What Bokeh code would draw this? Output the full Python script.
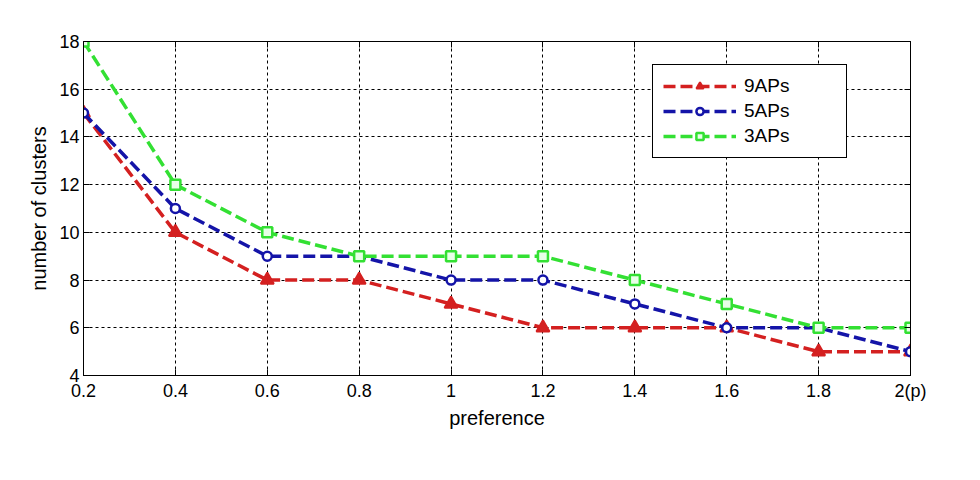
from bokeh.plotting import figure
from bokeh.models import LinearAxis, FixedTicker, Legend, LegendItem, Range1d
from bokeh.embed import file_html
from bokeh.resources import INLINE

x = [0.2, 0.4, 0.6, 0.8, 1.0, 1.2, 1.4, 1.6, 1.8, 2.0]
aps9 = [15, 10, 8, 8, 7, 6, 6, 6, 5, 5]
aps5 = [15, 11, 9, 9, 8, 8, 7, 6, 6, 5]
aps3 = [18, 12, 10, 9, 9, 9, 8, 7, 6, 6]
xticks = [0.2, 0.4, 0.6, 0.8, 1.0, 1.2, 1.4, 1.6, 1.8, 2.0]
xtick_labels = {0.2: "0.2", 0.4: "0.4", 0.6: "0.6", 0.8: "0.8", 1.0: "1", 1.2: "1.2",
                1.4: "1.4", 1.6: "1.6", 1.8: "1.8", 2.0: "2(p)"}
yticks = [4, 6, 8, 10, 12, 14, 16, 18]

FONT = "Liberation Sans"
RED = "#d42020"
BLUE = "#1414a8"
GREEN = "#33e033"

p = figure(width=975, height=470, output_backend="svg", toolbar_location=None,
           x_range=Range1d(0.2, 2.0), y_range=Range1d(4, 18),
           min_border_left=83, min_border_right=65, min_border_top=41, min_border_bottom=95)
p.background_fill_color = "white"
p.border_fill_color = "white"
p.outline_line_color = "black"
p.outline_line_width = 1
p.outline_line_alpha = 1

for ax in (p.xaxis[0], p.yaxis[0]):
    ax.major_tick_in = 6
    ax.major_tick_out = 0
    ax.minor_tick_line_color = None
    ax.axis_line_color = "black"
    ax.major_label_text_font = FONT
    ax.major_label_text_font_size = "18px"
    ax.major_label_text_color = "black"
    ax.axis_label_text_font = FONT
    ax.axis_label_text_font_size = "20px"
    ax.axis_label_text_font_style = "normal"
    ax.axis_label_text_color = "black"

p.xaxis.ticker = FixedTicker(ticks=xticks)
p.xaxis.major_label_overrides = xtick_labels
p.yaxis.ticker = FixedTicker(ticks=yticks)
p.xaxis.axis_label = "preference"
p.yaxis.axis_label = "number of clusters"
p.xaxis.major_label_standoff = 5
p.xaxis.axis_label_standoff = 3
p.yaxis.major_label_standoff = 4
p.yaxis.axis_label_standoff = 6

top_ax = LinearAxis(ticker=FixedTicker(ticks=xticks),
                    major_label_overrides={t: "" for t in xticks},
                    major_tick_in=6, major_tick_out=0, minor_tick_line_color=None)
right_ax = LinearAxis(ticker=FixedTicker(ticks=yticks),
                      major_label_overrides={t: "" for t in yticks},
                      major_tick_in=6, major_tick_out=0, minor_tick_line_color=None)
p.add_layout(top_ax, "above")
p.add_layout(right_ax, "right")

p.xgrid.ticker = FixedTicker(ticks=xticks)
p.ygrid.ticker = FixedTicker(ticks=yticks)
p.grid.grid_line_color = "black"
p.grid.grid_line_dash = "3 3"
p.grid.grid_line_width = 1
p.grid.grid_line_alpha = 1

DASH = "12 5"
l9 = p.line(x, aps9, line_color=RED, line_width=3.5, line_dash=DASH)
m9 = p.scatter(x, aps9, marker="triangle", size=13, line_color=RED, fill_color=RED, line_width=2)
l5 = p.line(x, aps5, line_color=BLUE, line_width=3.5, line_dash=DASH)
m5 = p.scatter(x, aps5, marker="circle", size=9, line_color=BLUE, fill_color="white", line_width=2.5)
l3 = p.line(x, aps3, line_color=GREEN, line_width=3.5, line_dash=DASH)
m3 = p.scatter(x, aps3, marker="square", size=10, line_color=GREEN, fill_color="#e8ffe8", line_width=2.5)

legend = Legend(items=[LegendItem(label="9APs", renderers=[l9, m9]),
                       LegendItem(label="5APs", renderers=[l5, m5]),
                       LegendItem(label="3APs", renderers=[l3, m3])],
                location=(569, 217))
legend.label_text_font = FONT
legend.label_text_font_size = "19px"
legend.label_text_color = "black"
legend.glyph_width = 73
legend.glyph_height = 18
legend.label_height = 18
legend.label_width = 92
legend.spacing = 3
legend.padding = 10
legend.margin = 0
legend.label_standoff = 8
legend.border_line_color = "black"
legend.border_line_alpha = 1
legend.border_line_width = 1
legend.background_fill_alpha = 1
p.add_layout(legend, "center")

open("out.html", "w").write(file_html(p, INLINE))
